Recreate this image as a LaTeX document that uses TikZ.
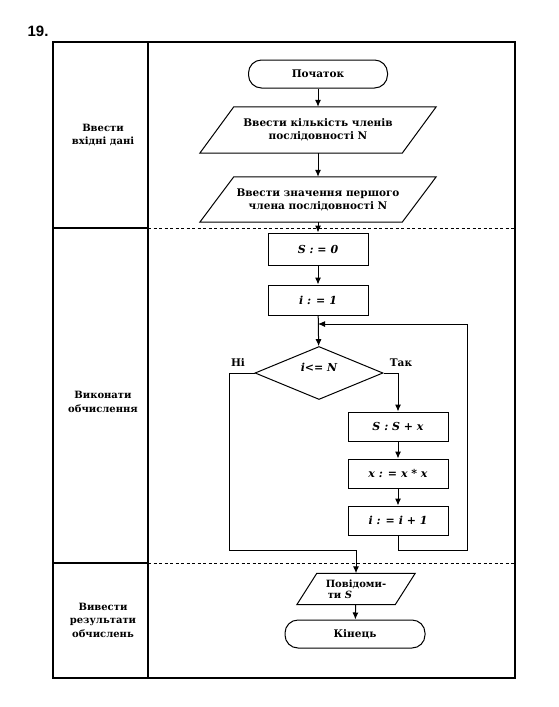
\documentclass[tikz,border=0pt]{standalone}
\usepackage{fontspec}
\setmainfont{DejaVu Serif}
\newfontfamily\numfont{Liberation Sans}
\usetikzlibrary{shapes.geometric,arrows.meta}
\newcommand\drawpara[2]{\draw[line width=1pt] ([xshift=#2]#1.north west) -- ([xshift=#2]#1.north east) -- ([xshift=-#2]#1.south east) -- ([xshift=-#2]#1.south west) -- cycle;}
\begin{document}
\begin{tikzpicture}[x=1pt,y=-1pt,
  font=\bfseries\fontsize{10.5}{13}\selectfont,
  flow/.style={line width=1pt},
  arr/.style={flow,-{Latex[length=7pt,width=6pt]}},
  term/.style={draw,line width=1pt,rounded corners=13pt,minimum width=139pt,minimum height=28pt,inner sep=0},
  mathfont/.style={font=\bfseries\itshape\fontsize{11}{13}\selectfont},
  proc/.style={draw,line width=1pt,minimum width=100pt,minimum height=30pt,inner sep=0,mathfont},
  iobox/.style={minimum height=46pt,minimum width=202pt,inner sep=0,align=center},
  dec/.style={draw,line width=1pt,diamond,minimum width=128pt,minimum height=53pt,inner sep=0},
  frame/.style={line width=1.2pt},
  sep/.style={line width=0.8pt,dash pattern=on 3pt off 2.5pt},
  lbl/.style={align=center,font=\bfseries\fontsize{10}{13.5}\selectfont}
]
\useasboundingbox (0,0) rectangle (558,707);

% number
\node[font=\numfont\bfseries\fontsize{15}{15}\selectfont] (num) at (38,31) {19.};

% frame
\draw[frame] (53,42) rectangle (515,678);
\draw[line width=1.5pt] (148,42) -- (148,678);
\draw[line width=1.5pt] (53,228) -- (148,228);
\draw[line width=1.5pt] (53,563) -- (148,563);
\draw[sep] (148,228) -- (515,228);
\draw[sep] (148,563) -- (515,563);

% section labels
\node[lbl] (l1) at (103,135) {Ввести\\вхідні дані};
\node[lbl] (l2) at (103,402) {Виконати\\обчислення};
\node[lbl] (l3) at (103,620) {Вивести\\результати\\обчислень};

% flowchart nodes
\node[term] (start) at (318,74) {Початок};
\node[iobox] (in1) at (318,130) {Ввести кількість членів\\послідовності N};
\drawpara{in1}{17pt}
\node[iobox,minimum height=45pt] (in2) at (318,199.5) {Ввести значення першого\\члена послідовності N};
\drawpara{in2}{17pt}
\node[proc,minimum height=32pt] (s0) at (318,249) {S : = 0};
\node[proc] (i1) at (318,300) {i : = 1};
\node[dec] (cond) at (319,373) {};
\node[mathfont] (condtxt) at (319,367) {i<= N};
\node[proc,minimum height=29pt] (ss) at (398,426.5) {S : S + x};
\node[proc,minimum height=29pt] (xx) at (398,473.5) {x : = x * x};
\node[proc,minimum height=29pt] (ii) at (398,520.5) {i : = i + 1};
\node[iobox,minimum height=31pt,minimum width=98pt,align=left,font=\bfseries\fontsize{10}{11}\selectfont] (out) at (356,589) {Повідоми-\\\hspace{2pt}ти \textit{S}};
\drawpara{out}{10pt}
\node[term,minimum width=140pt] (end) at (355,634) {Кінець};

\node (no) at (238,363) {Ні};
\node (yes) at (401,363) {Так};

\coordinate (join) at (318,324);
\coordinate (loopR) at (467,550);
\coordinate (loopT) at (467,324);
\coordinate (noL) at (229,550);

% connectors
\draw[arr] (start) -- (in1);
\draw[arr] (in1) -- (in2);
\draw[arr] (in2) -- (s0);
\draw[arr] (s0) -- (i1);
\draw[arr] (i1) -- (cond);
\draw[arr] (cond.east) -| (ss.north);
\draw[arr] (ss) -- (xx);
\draw[arr] (xx) -- (ii);
\draw[arr] (ii.south) |- (loopR) -- (loopT) -- (join);
\draw[arr] (cond.west) -| (noL) -| (out.north);
\draw[arr] (out) -- (end);
\end{tikzpicture}
\end{document}
